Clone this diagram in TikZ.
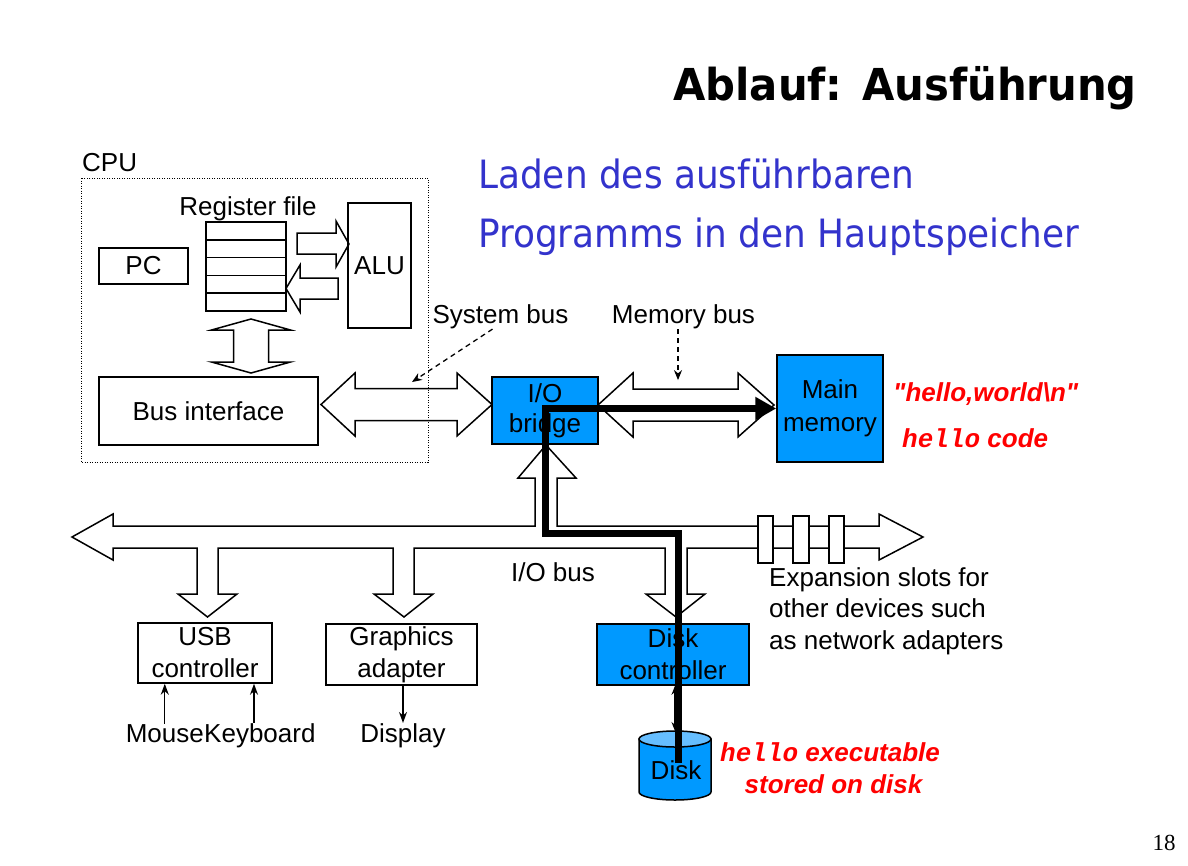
\documentclass[tikz,border=0pt]{standalone}
\usepackage{fontspec}
\setmainfont{Liberation Sans}
\setmonofont{Liberation Mono}
\newfontfamily\titlefont[FakeStretch=0.95]{DejaVu Sans}
\newfontfamily\subfont[FakeStretch=0.92]{DejaVu Sans}
\newfontfamily\numfont{Liberation Serif}
\newfontfamily\qfont[Ligatures=TeXOff]{Liberation Sans}
\usetikzlibrary{arrows.meta}
\definecolor{boxblue}{RGB}{0,153,255}
\definecolor{disktop}{RGB}{102,190,255}
\definecolor{subblue}{RGB}{51,51,204}
\definecolor{hired}{RGB}{255,0,0}
\tikzset{
  lbl/.style={inner sep=0pt, font=\fontsize{26}{32}\selectfont},
  box/.style={draw, line width=1.5pt, inner sep=0pt, align=center, font=\fontsize{26}{32}\selectfont},
  bbox/.style={box, fill=boxblue},
  fat/.style={draw, line width=1.5pt, fill=white, line join=miter},
  thinarrow/.style={line width=1.4pt, -{Stealth[length=11pt,width=8pt]}},
  dasharrow/.style={line width=1.3pt, dash pattern=on 5pt off 4pt, -{Stealth[length=10pt,width=8pt]}},
  redlbl/.style={inner sep=0pt, text=hired, font=\bfseries\itshape\fontsize{26}{32}\selectfont},
  heavy/.style={line width=7pt, line join=miter, -{Triangle[length=21pt,width=22pt]}},
}
\begin{document}
\begin{tikzpicture}[x=1pt,y=-1pt]
\useasboundingbox (0,0) rectangle (1188,865);
\fill[white] (0,0) rectangle (1188,865);

% title and subtitle
\node[inner sep=0pt, anchor=base east, font=\titlefont\bfseries\fontsize{44}{50}\selectfont] (title) at (1137,100) {Ablauf: Ausführung};
\node[inner sep=0pt, anchor=base west, text=subblue, font=\subfont\fontsize{39}{45}\selectfont] (sub1) at (478,188) {Laden des ausführbaren};
\node[inner sep=0pt, anchor=base west, text=subblue, font=\subfont\fontsize{39}{45}\selectfont] (sub2) at (478,247) {Programms in den Hauptspeicher};

% fat arrows inside CPU
\draw[fat] (297,233) -- (336,233) -- (336,221) -- (349,244) -- (336,267) -- (336,254) -- (297,254) -- cycle;
\draw[fat] (338,278) -- (300,278) -- (300,265) -- (286,288.5) -- (300,312) -- (300,299) -- (338,299) -- cycle;
\draw[fat] (251,319) -- (290.5,330) -- (268.5,330) -- (268.5,362) -- (290.5,362) -- (251,373) -- (211.5,362) -- (233.5,362) -- (233.5,330) -- (211.5,330) -- cycle;

% system bus
\draw[fat] (321,404.5) -- (355,373) -- (355,388.5) -- (457,388.5) -- (457,373) -- (492,404.5) -- (457,436) -- (457,420.5) -- (355,420.5) -- (355,436) -- cycle;
% memory bus
\draw[fat] (598,405) -- (633,373) -- (633,389) -- (738,389) -- (738,373) -- (774,405) -- (738,437) -- (738,421) -- (633,421) -- (633,437) -- cycle;
% I/O bus with branches
\draw[fat] (72,537) -- (113,514) -- (113,526) -- (535,526) -- (535,478) -- (518,478) -- (546,445) -- (576,478) -- (557,478) -- (557,526)
  -- (879,526) -- (879,514) -- (923,537) -- (879,560) -- (879,548)
  -- (687,548) -- (687,594) -- (705,594) -- (676,617) -- (646,594) -- (665,594) -- (665,548)
  -- (414,548) -- (414,594) -- (433,594) -- (404,617) -- (374,594) -- (393,594) -- (393,548)
  -- (218,548) -- (218,594) -- (237,594) -- (207.5,617) -- (178,594) -- (197,594) -- (197,548)
  -- (113,548) -- (113,560) -- cycle;
% expansion slots
\draw[fat] (758,516) rectangle (773,563);
\draw[fat] (793,516) rectangle (809,563);
\draw[fat] (829,516) rectangle (844,563);

% CPU parts
\node[lbl, anchor=base west] (cpulbl) at (82,171) {CPU};
\node[lbl, anchor=base] (reglbl) at (248,215) {Register file};
\node[box, minimum width=89pt, minimum height=36pt] (pc) at (143.5,266) {PC};
\node[box, minimum width=80pt, minimum height=89pt] (reg) at (246,266.5) {};
\foreach \yy in {239.8,257.6,275.4,293.2} \draw[line width=1.5pt] (206,\yy) -- (286,\yy);
\node[box, minimum width=63pt, minimum height=125pt] (alu) at (379.5,265.5) {ALU};
\node[box, minimum width=219pt, minimum height=68pt] (bi) at (208.5,411) {Bus interface};

% bridge, memory
\node[bbox, minimum width=106pt, minimum height=67pt, font=\fontsize{26}{30}\selectfont] (iob) at (545,410.5) {I/O\\bridge};
\node[bbox, minimum width=106pt, minimum height=107pt, font=\fontsize{26}{33}\selectfont] (mm) at (830,408.5) {Main\\memory};

% bus labels and dashed arrows
\node[lbl, anchor=base] (sysbus) at (500.5,323.5) {System bus};
\coordinate (sbtip) at (412,382);
\draw[dasharrow] ([xshift=-8pt]sysbus.south) -- (sbtip);
\node[lbl, anchor=base] (membus) at (683.5,323.5) {Memory bus};
\draw[dasharrow] ([xshift=-5.5pt]membus.south) -- ++(0,51);
\node[lbl, anchor=base] (iobus) at (553,581) {I/O bus};
\node[lbl, anchor=north west, align=left, font=\fontsize{26}{31.5}\selectfont] (exp) at (769,567) {Expansion slots for\\other devices such\\as network adapters};

% red texts
\node[redlbl, anchor=base west, font=\qfont\bfseries\itshape\fontsize{26}{32}\selectfont] (hw) at (893,401) {"hello,world\textbackslash n"};
\node[redlbl, anchor=base west] (hc) at (902,447) {{\ttfamily hello} code};
\node[redlbl, anchor=base west] (he) at (720,761) {{\ttfamily hello} executable};
\node[redlbl, anchor=base] (sd) at (833.5,793) {stored on disk};

% devices
\node[box, minimum width=134pt, minimum height=60pt] (usb) at (205,653) {USB\\controller};
\node[box, minimum width=151pt, minimum height=61pt] (ga) at (401.5,654.5) {Graphics\\adapter};
\node[bbox, minimum width=152pt, minimum height=61pt] (dc) at (673,654.5) {Disk\\controller};

\node[lbl, anchor=base east] (mouse) at (204,742) {Mouse};
\node[lbl, anchor=base west] (keyb) at (204,742) {Keyboard};
\node[lbl, anchor=base] (disp) at (403,742) {Display};
\coordinate (kx) at (254,0);
\draw[thinarrow] (mouse.north) -- (usb.south -| mouse.north);
\draw[thinarrow] (keyb.north -| kx) -- (usb.south -| kx);
\draw[thinarrow] (ga.south -| disp.north) -- (disp.north);

% disk
\filldraw[fill=boxblue, line width=1.5pt] (639,739) -- (639,792) arc[start angle=180, end angle=360, x radius=36pt, y radius=8pt] -- (711,739) -- cycle;
\filldraw[fill=disktop, line width=1.5pt] (675,739) ellipse[x radius=36pt, y radius=8pt];
\node[lbl, anchor=base] (disk) at (676,779) {Disk};
\coordinate (disktopc) at (675,731);
\draw[line width=1.4pt, {Stealth[length=9pt,width=7pt]}-{Stealth[length=9pt,width=7pt]}] (dc.south -| disktopc) -- (disktopc);

% heavy data path
\coordinate (dend) at (678,763);
\draw[heavy] (dend) -- (678,533) -- (545.5,533) -- (545.5,408.5) -- (mm.west);

% CPU dotted frame
\draw[line width=1pt, dash pattern=on 1pt off 1.5pt] (81,178) rectangle (428,462);

% page number
\node[inner sep=0pt, anchor=base, font=\numfont\fontsize{23}{26}\selectfont] (pnum) at (1164,850) {18};
\end{tikzpicture}
\end{document}
